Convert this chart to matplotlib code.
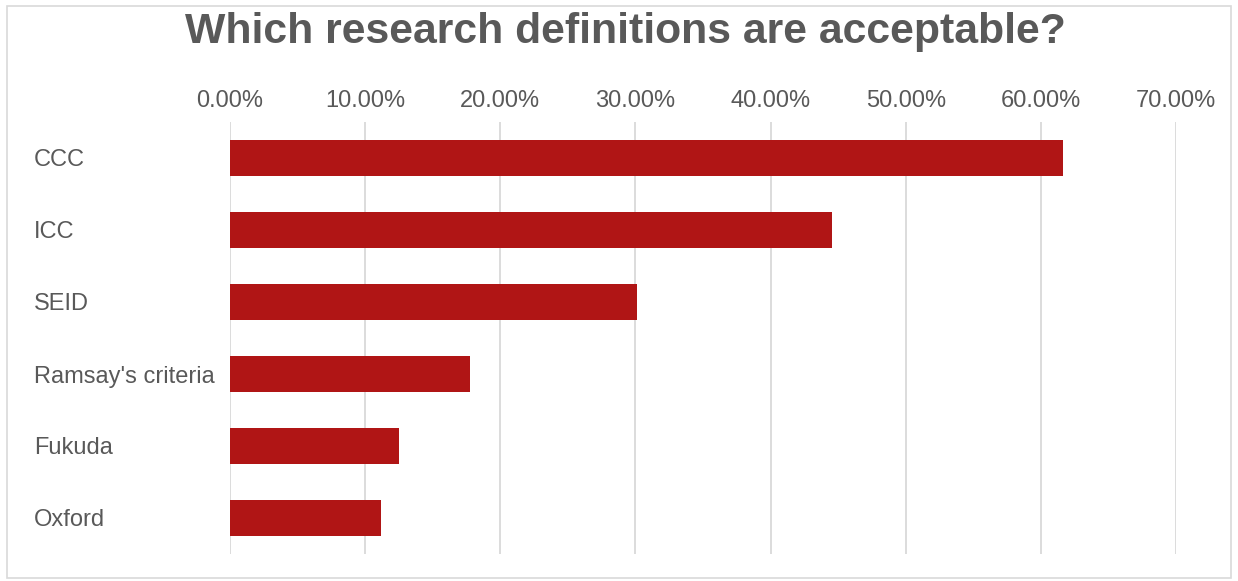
import matplotlib.pyplot as plt
from matplotlib.patches import Rectangle
from matplotlib.ticker import PercentFormatter

plt.rcParams['font.family'] = ['Liberation Sans', 'DejaVu Sans']

categories = ["CCC", "ICC", "SEID", "Ramsay's criteria", "Fukuda", "Oxford"]
values = [0.6166, 0.4456, 0.3010, 0.1776, 0.1250, 0.1118]

W, H = 1238, 581
fig = plt.figure(figsize=(W / 100, H / 100), dpi=100)
ax = fig.add_axes([230 / W, 1 - 554 / H, (1176 - 230) / W, 432 / H])

ax.barh(range(len(categories)), values, height=0.49, color='#b01515', zorder=3)

ax.set_xlim(0, 0.7)
ax.set_ylim(len(categories) - 0.5, -0.5)
ax.set_xticks([i / 10 for i in range(8)])
ax.xaxis.set_major_formatter(PercentFormatter(1.0, decimals=2))
ax.xaxis.tick_top()
ax.set_yticks(range(len(categories)))
ax.set_yticklabels(categories, ha='left')
# pads are in points (0.72 pt per pixel at 100 dpi)
ax.tick_params(axis='y', length=0, pad=196 * 0.72, labelsize=17, labelcolor='#595959')
ax.tick_params(axis='x', length=0, pad=7.5, labelsize=17, labelcolor='#595959')
ax.grid(axis='x', color='#d9d9d9', linewidth=1.3, zorder=0)
for s in ax.spines.values():
    s.set_visible(False)

fig.text(625 / W, 1 - 32 / H, 'Which research definitions are acceptable?',
         ha='center', va='center', fontsize=30.8, fontweight='bold', color='#595959')

fig.patches.append(Rectangle((7 / W, 1 - 578 / H), 1224 / W, 572 / H,
                             transform=fig.transFigure, fill=False,
                             edgecolor='#d9d9d9', linewidth=1.2))

fig.savefig('out.png', dpi=100)
